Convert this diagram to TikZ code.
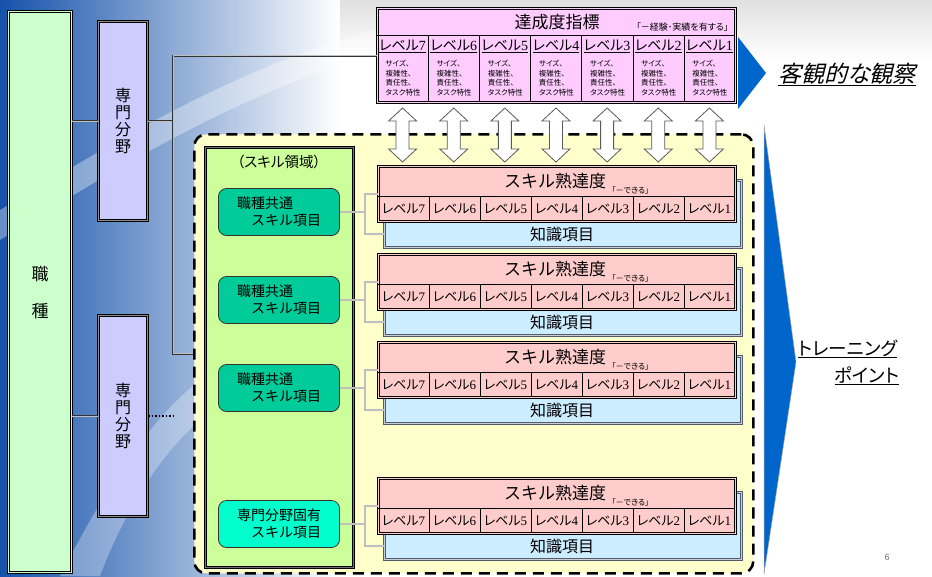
\documentclass[tikz,border=0pt]{standalone}
\usepackage{fontspec}
\setmainfont{Noto Sans CJK JP}
\newfontfamily\jpp[RawFeature=+palt]{Noto Sans CJK JP}
\newfontfamily\jpslant[RawFeature=+palt,FakeSlant=0.25]{Noto Sans CJK JP}
\newfontfamily\numfont{Liberation Serif}
\newfontfamily\pagefont{Liberation Sans}
\usetikzlibrary{calc}
\definecolor{bgblue}{RGB}{22,82,170}
\definecolor{jobgreen}{RGB}{204,255,204}
\definecolor{fieldblue}{RGB}{204,204,255}
\definecolor{idxpink}{RGB}{255,204,255}
\definecolor{skillpink}{RGB}{255,204,204}
\definecolor{knowblue}{RGB}{204,236,255}
\definecolor{areagreen}{RGB}{204,255,153}
\definecolor{itemgreen}{RGB}{0,204,153}
\definecolor{itemcyan}{RGB}{0,255,204}
\definecolor{regionyellow}{RGB}{255,255,204}
\definecolor{arrowblue}{RGB}{0,102,204}
\definecolor{slate}{RGB}{80,92,110}
\newcommand\levlabel[1]{{\jpp レベル}{\numfont #1}}

\begin{document}
\begin{tikzpicture}[x=1pt,y=-1pt,
  frame/.style={draw=black,line width=1.2pt,double distance=1pt},
  link/.style={draw=black!80,line width=0.5pt,double=black!25,double distance=1.2pt},
  region/.style={draw=black,line width=2.6pt,dash pattern=on 11pt off 7pt,rounded corners=12pt,fill=regionyellow},
  blockarrow/.style={draw=black!65,fill=white,line width=0.8pt,line join=miter},
  itembox/.style={draw=black!80,line width=0.8pt,rounded corners=8pt,minimum width=121,minimum height=47,
    align=left,font=\fontsize{14}{17}\selectfont}]
  \useasboundingbox (0,0) rectangle (932,576);
  % background
  \fill[white] (0,0) rectangle (932,576);
  \shade[left color=bgblue,middle color=bgblue!55!white,right color=white] (0,0) rectangle (340,576);
  \shade[top color=black!12,bottom color=white] (340,0) rectangle (932,60);
  \fill[white,opacity=0.35] (0,210) .. controls (120,140) and (240,60) .. (420,18) -- (420,40) .. controls (250,85) and (130,160) .. (0,240) -- cycle;
  \fill[white,opacity=0.3] (60,576) .. controls (110,480) and (150,420) .. (200,380) -- (200,420) .. controls (160,455) and (125,510) .. (100,576) -- cycle;

  % left columns
  \node[frame,double=jobgreen,fill=jobgreen,anchor=north west,minimum width=63,minimum height=561,
    align=center,font=\fontsize{17}{37}\selectfont] (job) at (8,11) {職\\種};
  \node[frame,double=black!45,fill=fieldblue,anchor=north west,minimum width=49,minimum height=199,
    align=center,font=\fontsize{16}{17}\selectfont] (fieldA) at (98,21) {専\\門\\分\\野};
  \node[frame,double=black!45,fill=fieldblue,anchor=north west,minimum width=49,minimum height=201,
    align=center,font=\fontsize{16}{17}\selectfont] (fieldB) at (98,315) {専\\門\\分\\野};

  % achievement index
  \node[frame,double=idxpink,fill=idxpink,anchor=north west,minimum width=358,minimum height=94] (idx) at (377,8) {};
  \draw[thin] (377,35) -- (735,35);
  \foreach \i in {1,...,6}
    \draw[thin] ({377+51.14*\i},35) -- ({377+51.14*\i},102);
  \node[font=\fontsize{17}{17}\selectfont] (idxtitle) at (557,22) {達成度指標};
  \node[font=\jpp\fontsize{9}{9}\selectfont,anchor=east] (idxnote) at (732,27) {「－経験･実績を有する」};
  \foreach \i in {0,...,6}{
    \pgfmathtruncatemacro\lv{7-\i}
    \node[font=\fontsize{14}{14}\selectfont] (idxlv\lv) at ({377+51.14*\i+25.57},46) {\underline{\levlabel{\lv}}};
    \node[font=\jpp\fontsize{7.5}{9.5}\selectfont,align=left,anchor=north west] (idxtx\lv) at ({377+51.14*\i+5},57)
      {サイズ、\\複雑性、\\責任性、\\タスク特性};
  }

  % skill region
  \node[region,anchor=north west,minimum width=559,minimum height=439] (region) at (193,133) {};
  \node[frame,double=black!55,fill=areagreen,anchor=north west,minimum width=148,minimum height=420] (area) at (205,147) {};
  \node[font=\jpp\fontsize{14.5}{15}\selectfont] (areatitle) at (279,162) {（スキル領域）};

  % connectors from the fields
  \coordinate (fork) at ($(fieldA.east)+(25,0)$);
  \draw[link] (job.east |- fieldA.west) -- (fieldA.west);
  \draw[link] (fieldA.east) -- (fork);
  \draw[link] (idx.west) -| (fork) |- (region.west);
  \coordinate (fieldBend) at ($(fieldB.east)+(25,0)$);
  \draw[link] (job.east |- fieldB.west) -- (fieldB.west);
  \draw[dotted,line width=1.5pt] (fieldB.east) -- (fieldBend);

  % double arrows between index and skill levels
  \foreach \i in {0,...,6}{
    \coordinate (da\i) at ({377+51.14*\i+25.57},135);
    \draw[blockarrow] ($(da\i)+(0,-27)$) -- ++(14,13) -- ++(-7.5,0) -- ++(0,28) -- ++(7.5,0) -- ++(-14,13)
      -- ++(-14,-13) -- ++(7.5,0) -- ++(0,-28) -- ++(-7.5,0) -- cycle;
  }

  % skill blocks
  \foreach \b/\t/\txt/\col in {1/166/{職種共通\\\hspace*{1em}スキル項目}/itemgreen,
      2/254/{職種共通\\\hspace*{1em}スキル項目}/itemgreen,
      3/342/{職種共通\\\hspace*{1em}スキル項目}/itemgreen,
      4/478/{専門分野固有\\\hspace*{1em}スキル項目}/itemcyan}{
    \node[draw=slate,line width=1.1pt,double=white!70!slate,double distance=1pt,fill=knowblue,
      anchor=north west,minimum width=357,minimum height=67] (know\b) at (384,\t+14) {};
    \node[font=\fontsize{16}{16}\selectfont] (knowtx\b) at (562,\t+68) {知識項目};
    \node[frame,double=skillpink,fill=skillpink,anchor=north west,minimum width=357,minimum height=55] (skill\b) at (378,\t) {};
    \draw[thin] (378,\t+30) -- (735,\t+30);
    \foreach \i in {1,...,6}
      \draw[thin] ({378+51*\i},\t+30) -- ({378+51*\i},\t+55);
    \node[font=\fontsize{17}{17}\selectfont] (skilltx\b) at (555,\t+15) {スキル熟達度};
    \node[font=\jpp\fontsize{8}{8}\selectfont,anchor=south west,inner sep=1pt] (skillnote\b)
      at ([xshift=1pt,yshift=-3pt]skilltx\b.south east) {「－できる」};
    \foreach \i in {0,...,6}{
      \pgfmathtruncatemacro\lv{7-\i}
      \node[font=\fontsize{13}{13}\selectfont] (lv\b-\lv) at ({378+51*\i+25.5},\t+43) {\levlabel{\lv}};
    }
    \node[itembox,fill=\col] (item\b) at (279,\t+46) {\txt};
    \coordinate (brtop\b) at (365,\t+28);
    \coordinate (brbot\b) at (365,\t+68);
    \draw[link] (skill\b.west |- brtop\b) -- (brtop\b) -- (brbot\b) -- (know\b.west |- brbot\b);
    \draw[link] (item\b.east) -- (item\b.east -| brtop\b);
  }

  % right side
  \fill[arrowblue] (738,37) -- (766,73) -- (738,109) -- cycle;
  \filldraw[fill=arrowblue,draw=black!35,line width=0.5pt] (764,125) -- (796,362) -- (764,574) -- cycle;
  \node[font=\jpslant\fontsize{23}{23}\selectfont,anchor=base west,inner sep=2pt] (observe) at (776,82) {\underline{客観的な観察}};
  \node[font=\jpp\fontsize{18.5}{19}\selectfont,anchor=base east] (train1) at (901,355) {\underline{トレーニング}};
  \node[font=\jpp\fontsize{18.5}{19}\selectfont,anchor=base east] (train2) at (903,382) {\underline{ポイント}};
  \node[font=\pagefont\fontsize{9}{9}\selectfont,text=black!55] (pagenum) at (887,557) {6};
\end{tikzpicture}
\end{document}
